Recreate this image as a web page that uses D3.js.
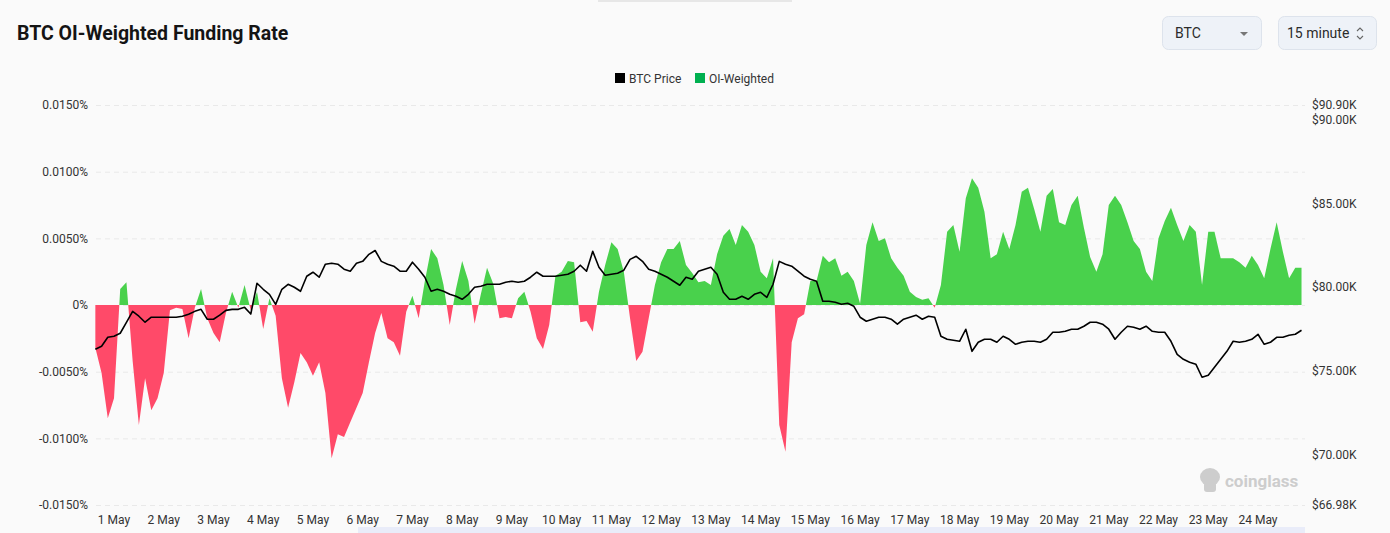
<!DOCTYPE html>
<html>
<head>
<meta charset="utf-8">
<script src="https://cdn.jsdelivr.net/npm/d3@7"></script>
<style>
  body { margin: 0; background: #fafafa; font-family: Roboto, "Noto Sans", sans-serif; }
  svg { display: block; }
</style>
</head>
<body>
<svg id="chart"></svg>
<script>
// 3-hour samples starting 30 Apr 15:00
const startTime = new Date(2025, 3, 30, 15);
const stepHours = 3;

// OI-weighted funding rate, in %
const fundingRate = [
  -0.0032, -0.0051, -0.0085,
  -0.0070, 0.0012, 0.0017, -0.0042, -0.0090, -0.0055, -0.0079, -0.0070,
  -0.0051, -0.0004, -0.0002, -0.0003, -0.0025, -0.0002, 0.0012, -0.0010,
  -0.0021, -0.0028, -0.0006, 0.0010, -0.0002, 0.0015, -0.0004, 0.0010,
  -0.0018, 0.0005, -0.0008, -0.0055, -0.0077, -0.0058, -0.0036, -0.0043,
  -0.0053, -0.0043, -0.0066, -0.0115, -0.0097, -0.0099, -0.0088, -0.0077,
  -0.0066, -0.0043, -0.0021, -0.0006, -0.0025, -0.0028, -0.0038, -0.0005,
  0.0007, -0.0010, 0.0018, 0.0042, 0.0035, 0.0015, -0.0015, 0.0012,
  0.0033, 0.0018, -0.0014, 0.0008, 0.0028, 0.0016, -0.0010, -0.0009,
  -0.0010, 0.0005, 0.0010, -0.0005, -0.0025, -0.0033, -0.0015, 0.0022,
  0.0025, 0.0033, 0.0032, -0.0013, -0.0012, -0.0020, 0.0010, 0.0030,
  0.0047, 0.0042, 0.0025, -0.0010, -0.0042, -0.0035, -0.0010, 0.0015,
  0.0032, 0.0042, 0.0042, 0.0048, 0.0030, 0.0024, 0.0017, 0.0018,
  0.0015, 0.0038, 0.0052, 0.0057, 0.0045, 0.0060, 0.0055, 0.0045,
  0.0025, 0.0020, 0.0035, -0.0090, -0.0110, -0.0028, -0.0010, -0.0007,
  0.0018, 0.0018, 0.0037, 0.0032, 0.0035, 0.0022, 0.0025, 0.0018,
  0.0001, 0.0045, 0.0062, 0.0048, 0.0050, 0.0035, 0.0028, 0.0022,
  0.0010, 0.0006, 0.0004, 0.0005, -0.0002, 0.0015, 0.0055, 0.0060,
  0.0040, 0.0080, 0.0095, 0.0088, 0.0070, 0.0035, 0.0038, 0.0055,
  0.0042, 0.0060, 0.0085, 0.0088, 0.0072, 0.0055, 0.0082, 0.0087,
  0.0062, 0.0060, 0.0075, 0.0082, 0.0058, 0.0036, 0.0025, 0.0038,
  0.0075, 0.0082, 0.0075, 0.0062, 0.0048, 0.0042, 0.0025, 0.0018,
  0.0050, 0.0063, 0.0073, 0.0060, 0.0048, 0.0060, 0.0055, 0.0015,
  0.0055, 0.0055, 0.0035, 0.0035, 0.0035, 0.0032, 0.0028, 0.0037,
  0.0030, 0.0020, 0.0042, 0.0062, 0.0040, 0.0020, 0.0028, 0.0028
];

// BTC price, thousands of USD
const btcPrice = [
  76.29, 76.47, 77.01,
  77.07, 77.25, 77.90, 78.56, 78.27, 77.91, 78.21, 78.21,
  78.21, 78.21, 78.21, 78.27, 78.39, 78.56, 78.68, 78.09,
  78.09, 78.33, 78.62, 78.68, 78.68, 78.80, 78.40, 80.24,
  79.88, 79.58, 78.98, 79.88, 80.18, 80.00, 79.76, 80.66,
  80.90, 80.60, 81.38, 81.44, 81.38, 81.08, 80.96, 81.44,
  81.55, 81.97, 82.20, 81.55, 81.38, 81.26, 80.96, 80.96,
  81.50, 81.08, 80.60, 79.76, 79.88, 79.76, 79.58, 79.46,
  79.28, 79.58, 80.00, 80.06, 80.18, 80.18, 80.18, 80.30,
  80.36, 80.30, 80.36, 80.60, 80.90, 80.66, 80.66, 80.66,
  80.72, 80.78, 80.96, 81.32, 80.96, 82.15, 81.20, 80.72,
  80.78, 80.84, 81.02, 81.67, 81.85, 81.55, 81.08, 80.96,
  80.78, 80.60, 80.36, 80.12, 80.60, 80.48, 80.96, 81.08,
  81.20, 80.78, 79.70, 79.28, 79.28, 79.46, 79.28, 79.58,
  79.70, 79.40, 80.18, 81.55, 81.38, 81.26, 80.96, 80.66,
  80.48, 80.36, 79.16, 79.16, 79.10, 78.98, 79.04, 78.86,
  78.21, 77.97, 78.09, 78.21, 78.21, 78.09, 77.79, 78.09,
  78.21, 78.33, 78.09, 78.27, 78.21, 77.07, 76.89, 76.83,
  76.77, 77.49, 76.17, 76.71, 76.89, 76.89, 76.71, 77.07,
  76.89, 76.59, 76.71, 76.77, 76.77, 76.71, 76.89, 77.31,
  77.31, 77.37, 77.49, 77.49, 77.67, 77.91, 77.91, 77.79,
  77.49, 76.89, 77.31, 77.67, 77.61, 77.49, 77.67, 77.37,
  77.31, 77.31, 76.77, 75.99, 75.69, 75.52, 75.40, 74.62,
  74.74, 75.22, 75.69, 76.17, 76.77, 76.71, 76.77, 76.89,
  77.19, 76.59, 76.71, 77.01, 77.01, 77.13, 77.19, 77.43
];

const rateTicks = [0.015, 0.01, 0.005, 0, -0.005, -0.01, -0.015];
const priceTicks = [90.90, 90.00, 85.00, 80.00, 75.00, 70.00, 66.98];
const firstDay = new Date(2025, 4, 1);
const lastDay = new Date(2025, 4, 24);

const width = 1390, height = 533;
const plotLeft = 96, plotRight = 1305, plotTop = 105, plotBottom = 505;

const svg = d3.select("#chart").attr("width", width).attr("height", height);

const data = fundingRate.map((v, i) => ({
  t: d3.timeHour.offset(startTime, i * stepHours),
  rate: v,
  price: btcPrice[i]
}));

const x = d3.scaleTime().domain([firstDay, lastDay]).range([114, 1258]);
const yRate = d3.scaleLinear().domain([-0.015, 0.015]).range([plotBottom, plotTop]);
const yPrice = d3.scaleLinear().domain([66.98, 90.90]).range([plotBottom, plotTop]);

// header
svg.append("text")
  .attr("x", 17).attr("y", 40)
  .attr("font-size", 19.5).attr("font-weight", 700)
  .attr("fill", "#141414")
  .style("letter-spacing", "0px")
  .text("BTC OI-Weighted Funding Rate");

svg.append("rect").attr("x", 598).attr("y", 0).attr("width", 194).attr("height", 2).attr("fill", "#e7e7e7");

const selects = [
  { x: 1162, w: 99, label: "BTC" },
  { x: 1278, w: 98, label: "15 minute" }
];
selects.forEach(s => {
  svg.append("rect")
    .attr("x", s.x + 0.5).attr("y", 16.5)
    .attr("width", s.w).attr("height", 33)
    .attr("rx", 6)
    .attr("fill", "#eef2f8").attr("stroke", "#dde3ec");
  svg.append("text")
    .attr("x", s.x + (s.label === "BTC" ? 13 : 9)).attr("y", 38)
    .attr("font-size", 14).attr("fill", "#2b2b2b")
    .text(s.label);
});
svg.append("path").attr("d", "M1240,32 L1248,32 L1244,36 Z").attr("fill", "#777");
svg.append("path").attr("d", "M1357,31 L1360,28 L1363,31 M1357,36 L1360,39 L1363,36")
  .attr("fill", "none").attr("stroke", "#666").attr("stroke-width", 1.1);

// legend
const legend = [
  { label: "BTC Price", color: "#000000", x: 615 },
  { label: "OI-Weighted", color: "#00b050", x: 695 }
];
legend.forEach(l => {
  svg.append("rect").attr("x", l.x).attr("y", 73).attr("width", 10).attr("height", 10).attr("fill", l.color);
  svg.append("text").attr("x", l.x + 14).attr("y", 82.5)
    .attr("font-size", 12).attr("fill", "#333").text(l.label);
});

// grid + left axis
svg.append("g").selectAll("line")
  .data(rateTicks).enter().append("line")
  .attr("x1", plotLeft).attr("x2", plotRight)
  .attr("y1", d => yRate(d) + 0.5).attr("y2", d => yRate(d) + 0.5)
  .attr("stroke", "#e9e9e9").attr("stroke-dasharray", "5,4");

svg.append("g").selectAll("text")
  .data(rateTicks).enter().append("text")
  .attr("x", 88).attr("y", d => yRate(d))
  .attr("dy", "0.35em").attr("text-anchor", "end")
  .attr("font-size", 12).attr("fill", "#333")
  .text(d => d === 0 ? "0%" : d.toFixed(4) + "%");

// right axis
svg.append("g").selectAll("text")
  .data(priceTicks).enter().append("text")
  .attr("x", 1312).attr("y", d => yPrice(d))
  .attr("dy", "0.35em")
  .attr("font-size", 12).attr("fill", "#333")
  .text(d => "$" + d.toFixed(2) + "K");

// x axis
svg.append("g").selectAll("text")
  .data(d3.timeDay.range(firstDay, d3.timeDay.offset(lastDay, 1)))
  .enter().append("text")
  .attr("x", d => x(d)).attr("y", 524)
  .attr("text-anchor", "middle")
  .attr("font-size", 12).attr("fill", "#333")
  .text(d3.timeFormat("%-d %b"));

// funding area, split by sign with clip paths
const defs = svg.append("defs");
defs.append("clipPath").attr("id", "clip-pos")
  .append("rect").attr("x", 0).attr("y", 0).attr("width", width).attr("height", yRate(0));
defs.append("clipPath").attr("id", "clip-neg")
  .append("rect").attr("x", 0).attr("y", yRate(0)).attr("width", width).attr("height", height);

const area = d3.area()
  .x(d => x(d.t))
  .y0(yRate(0))
  .y1(d => yRate(d.rate));

svg.append("path").datum(data)
  .attr("d", area).attr("fill", "#49d14c")
  .attr("clip-path", "url(#clip-pos)");
svg.append("path").datum(data)
  .attr("d", area).attr("fill", "#ff4a69")
  .attr("clip-path", "url(#clip-neg)");

// price line
const line = d3.line()
  .x(d => x(d.t))
  .y(d => yPrice(d.price));

svg.append("path").datum(data)
  .attr("d", line)
  .attr("fill", "none")
  .attr("stroke", "#000")
  .attr("stroke-width", 1.6)
  .attr("stroke-linejoin", "round");

// watermark
const wm = svg.append("g").attr("fill", "#cdcdcd");
wm.append("ellipse").attr("cx", 1210).attr("cy", 477).attr("rx", 10).attr("ry", 9);
wm.append("rect").attr("x", 1204).attr("y", 482).attr("width", 12).attr("height", 10).attr("rx", 3);
wm.append("text").attr("x", 1225).attr("y", 487)
  .attr("font-size", 17).attr("font-weight", 700)
  .text("coinglass");

// scroll strip at the bottom
svg.append("rect").attr("x", 358).attr("y", 527).attr("width", 947).attr("height", 6).attr("fill", "#e9ecf9");
</script>
</body>
</html>
